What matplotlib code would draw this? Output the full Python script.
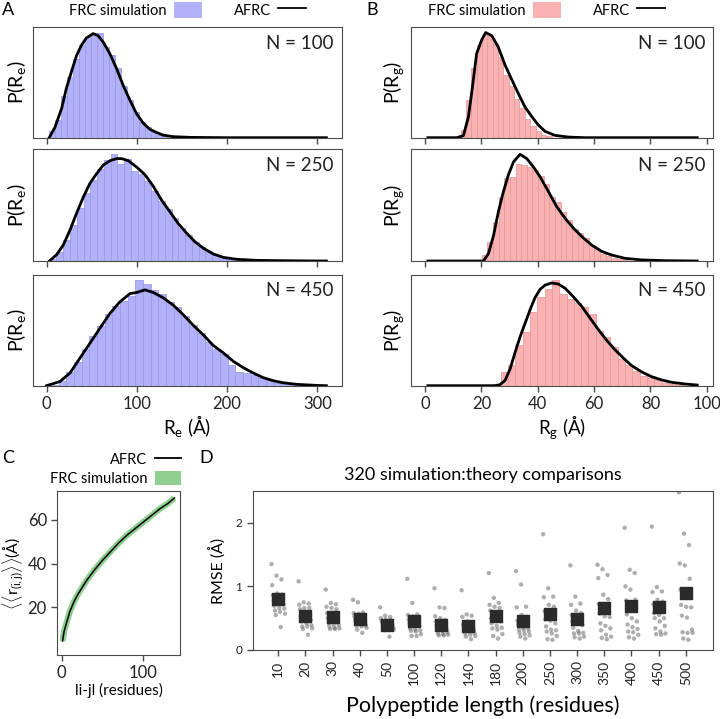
import numpy as np
import matplotlib.pyplot as plt
from matplotlib.patches import Patch
from matplotlib.lines import Line2D

plt.rcParams['font.family'] = ['Lato', 'DejaVu Sans']
plt.rcParams['mathtext.fontset'] = 'custom'
plt.rcParams['mathtext.rm'] = 'Lato'
plt.rcParams['axes.edgecolor'] = '#4a4a4a'
plt.rcParams['xtick.color'] = '#4a4a4a'
plt.rcParams['ytick.color'] = '#4a4a4a'
plt.rcParams['xtick.labelcolor'] = '#222222'
plt.rcParams['ytick.labelcolor'] = '#222222'

# ---------------- data ----------------
# panel A: end-to-end distance, histogram (bin start, bin width, heights) + AFRC curve
re100_start, re100_width = 3.0, 6.6
re100_hist = [0.06, 0.17, 0.40, 0.58, 0.75, 0.88, 0.96, 1.0, 1.0, 0.86, 0.79, 0.66,
              0.49, 0.36, 0.24, 0.15, 0.10, 0.06, 0.03, 0.015]
re100_x = [3, 9.4, 16.8, 22, 27.7, 33.2, 38.7, 44.3, 51.7, 57.2, 62.7, 70.1, 77.5, 84.8,
           92.2, 99.6, 107, 114.4, 121.8, 129, 140, 160, 200, 310]
re100_y = [0, 0.10, 0.28, 0.47, 0.63, 0.78, 0.88, 0.95, 0.99, 0.97, 0.91, 0.80, 0.66, 0.50,
           0.36, 0.23, 0.14, 0.08, 0.05, 0.025, 0.01, 0.003, 0, 0]

re250_start, re250_width = 3.5, 7.5
re250_hist = [0.02, 0.08, 0.20, 0.34, 0.50, 0.64, 0.76, 0.86, 0.95, 1.0, 0.91, 0.96, 0.84,
              0.82, 0.75, 0.66, 0.56, 0.49, 0.40, 0.31, 0.24, 0.18, 0.13, 0.09, 0.06, 0.035,
              0.02, 0.012]
re250_x = [3.3, 11.3, 18.6, 26, 33.4, 40.8, 48.2, 55.6, 62.9, 70.3, 77.7, 83.2, 90.6, 99.9,
           109, 118.3, 127.5, 136.8, 146, 155.3, 164.5, 173.7, 184.7, 195.8, 210.6, 232.8,
           262, 299, 310]
re250_y = [0, 0.06, 0.15, 0.29, 0.45, 0.60, 0.73, 0.82, 0.90, 0.94, 0.96, 0.96, 0.94, 0.88,
           0.81, 0.70, 0.57, 0.46, 0.35, 0.26, 0.18, 0.12, 0.066, 0.034, 0.016, 0.006,
           0.003, 0, 0]

re450_start, re450_width = 5.0, 8.5
re450_hist = [0.01, 0.04, 0.13, 0.22, 0.35, 0.47, 0.56, 0.68, 0.75, 0.80, 0.85, 1.0, 0.96,
              0.90, 0.87, 0.79, 0.74, 0.66, 0.57, 0.50, 0.41, 0.35, 0.30, 0.20, 0.13, 0.12,
              0.10, 0.07, 0.05, 0.03, 0.02, 0.01]
re450_x = [0, 15, 26, 37, 48, 59, 70, 81, 92.5, 99.9, 109, 118.3, 129.3, 140.4, 151.5, 162.6,
           173.6, 184.7, 195.8, 206.9, 218, 229, 240, 251, 262, 277, 299, 310]
re450_y = [0, 0.04, 0.12, 0.26, 0.40, 0.54, 0.68, 0.79, 0.87, 0.88, 0.905, 0.88, 0.83, 0.76,
           0.67, 0.57, 0.48, 0.38, 0.31, 0.23, 0.17, 0.12, 0.076, 0.047, 0.028, 0.013,
           0.003, 0]

# panel B: radius of gyration
rg100_start, rg100_width = 12.6, 1.9
rg100_hist = [0.07, 0.36, 0.66, 0.88, 0.98, 0.97, 0.89, 0.77, 0.60, 0.49, 0.37, 0.28, 0.18,
              0.11, 0.06, 0.03, 0.012]
rg100_x = [1, 11.2, 13.6, 15.4, 16.8, 18.3, 20.1, 21.5, 23.7, 26.0, 28.4, 30.8, 33.1, 35.5,
           37.9, 40.2, 42.6, 46.1, 50.9, 56.8, 96.6]
rg100_y = [0, 0, 0.02, 0.20, 0.48, 0.80, 0.93, 1.0, 0.97, 0.86, 0.69, 0.55, 0.42, 0.29,
           0.20, 0.12, 0.06, 0.022, 0.006, 0, 0]

rg250_start, rg250_width = 20.1, 2.0
rg250_hist = [0.06, 0.18, 0.37, 0.60, 0.78, 0.79, 0.91, 0.90, 0.88, 0.85, 0.80, 0.72, 0.60,
              0.55, 0.46, 0.38, 0.30, 0.26, 0.22, 0.15, 0.11, 0.07, 0.045, 0.03, 0.015, 0.008]
rg250_x = [1, 20.7, 22.5, 24.3, 26.0, 27.8, 29.6, 31.4, 33.7, 36.1, 38.5, 40.8, 43.8, 46.7,
           49.7, 52.6, 55.6, 59.1, 62.7, 66.2, 71.0, 76.9, 85.2, 96.6]
rg250_y = [0, 0, 0.07, 0.24, 0.46, 0.65, 0.81, 0.93, 1.0, 0.96, 0.88, 0.79, 0.65, 0.51,
           0.40, 0.31, 0.23, 0.15, 0.09, 0.056, 0.025, 0.01, 0.003, 0]

rg450_start, rg450_width = 24.2, 2.6
rg450_hist = [0.02, 0.13, 0.20, 0.38, 0.51, 0.70, 0.84, 0.91, 1.0, 0.87, 0.82, 0.78, 0.74,
              0.68, 0.52, 0.46, 0.37, 0.25, 0.20, 0.14, 0.09, 0.07, 0.05, 0.03, 0.015, 0.008]
rg450_x = [1, 24.8, 26.6, 28.4, 30.2, 31.9, 33.7, 35.5, 37.3, 39.0, 40.8, 42.6, 44.9, 47.3,
           49.7, 52.6, 55.6, 58.5, 61.5, 64.4, 67.4, 70.4, 73.3, 76.9, 80.4, 84.0, 87.5,
           92.3, 96.6]
rg450_y = [0, 0, 0.01, 0.05, 0.16, 0.31, 0.46, 0.59, 0.72, 0.83, 0.91, 0.95, 0.97, 0.96,
           0.92, 0.84, 0.75, 0.64, 0.53, 0.43, 0.34, 0.26, 0.19, 0.13, 0.085, 0.054, 0.032,
           0.016, 0.006]

# panel C: inter-residue distance scaling
sep = [1, 3, 6, 10, 15, 20, 30, 40, 50, 60, 70, 80, 90, 100, 110, 120, 130, 138]
rij = [4.5, 9, 13, 18, 22.5, 26, 32, 37, 41.5, 45.5, 49.5, 53, 56, 59, 62, 65, 67.5, 70]

# panel D: RMSE per polypeptide length
lengths = ['10', '20', '30', '40', '50', '100', '120', '140', '180', '200', '250', '300',
           '350', '400', '450', '500']
rmse_10 = [1.35, 1.17, 1.11, 1.02, 0.89, 0.87, 0.86, 0.84, 0.80, 0.78, 0.73, 0.72, 0.69, 0.66, 0.65, 0.62, 0.60, 0.57, 0.55, 0.36]
rmse_20 = [1.08, 0.75, 0.73, 0.71, 0.66, 0.66, 0.64, 0.58, 0.55, 0.52, 0.49, 0.47, 0.45, 0.42, 0.39, 0.37, 0.37, 0.34, 0.33, 0.24]
rmse_30 = [0.95, 0.74, 0.72, 0.68, 0.66, 0.64, 0.58, 0.55, 0.52, 0.50, 0.47, 0.44, 0.42, 0.40, 0.39, 0.37, 0.35, 0.34, 0.33, 0.33]
rmse_40 = [0.79, 0.75, 0.59, 0.58, 0.57, 0.55, 0.53, 0.51, 0.50, 0.48, 0.47, 0.45, 0.44, 0.40, 0.39, 0.38, 0.37, 0.35, 0.32, 0.27]
rmse_50 = [0.67, 0.54, 0.52, 0.50, 0.48, 0.47, 0.46, 0.45, 0.43, 0.42, 0.40, 0.39, 0.37, 0.36, 0.35, 0.34, 0.33, 0.32, 0.31, 0.21]
rmse_100 = [1.12, 0.74, 0.56, 0.55, 0.53, 0.50, 0.48, 0.45, 0.45, 0.42, 0.39, 0.38, 0.34, 0.32, 0.31, 0.30, 0.29, 0.25, 0.22, 0.22]
rmse_120 = [0.97, 0.67, 0.66, 0.53, 0.50, 0.47, 0.45, 0.42, 0.40, 0.39, 0.36, 0.33, 0.31, 0.30, 0.28, 0.26, 0.25, 0.24, 0.23, 0.23]
rmse_140 = [0.94, 0.56, 0.54, 0.52, 0.45, 0.42, 0.40, 0.38, 0.37, 0.35, 0.33, 0.32, 0.30, 0.29, 0.27, 0.26, 0.24, 0.22, 0.21, 0.17]
rmse_180 = [1.21, 0.82, 0.74, 0.71, 0.68, 0.66, 0.62, 0.57, 0.53, 0.50, 0.47, 0.45, 0.42, 0.38, 0.35, 0.34, 0.32, 0.25, 0.22, 0.18]
rmse_200 = [1.24, 1.03, 0.68, 0.67, 0.55, 0.52, 0.46, 0.44, 0.43, 0.40, 0.35, 0.34, 0.32, 0.31, 0.29, 0.27, 0.25, 0.23, 0.21, 0.18]
rmse_250 = [1.82, 0.97, 0.84, 0.83, 0.71, 0.68, 0.61, 0.56, 0.50, 0.48, 0.46, 0.42, 0.37, 0.32, 0.31, 0.29, 0.26, 0.22, 0.17, 0.16]
rmse_300 = [1.33, 0.84, 0.73, 0.71, 0.62, 0.58, 0.55, 0.52, 0.46, 0.45, 0.42, 0.39, 0.35, 0.30, 0.27, 0.26, 0.26, 0.21, 0.20, 0.18]
rmse_350 = [1.34, 1.27, 1.18, 1.13, 0.87, 0.80, 0.72, 0.66, 0.61, 0.57, 0.53, 0.52, 0.42, 0.38, 0.34, 0.31, 0.24, 0.21, 0.19, 0.17]
rmse_400 = [1.92, 1.26, 1.21, 1.00, 0.95, 0.79, 0.78, 0.71, 0.65, 0.56, 0.50, 0.45, 0.40, 0.36, 0.33, 0.29, 0.28, 0.24, 0.20, 0.18]
rmse_450 = [1.94, 0.99, 0.92, 0.91, 0.79, 0.76, 0.72, 0.68, 0.61, 0.58, 0.55, 0.50, 0.50, 0.45, 0.38, 0.34, 0.29, 0.26, 0.25, 0.24]
rmse_500 = [2.48, 1.83, 1.65, 1.36, 1.33, 1.12, 0.95, 0.88, 0.85, 0.71, 0.68, 0.67, 0.54, 0.51, 0.32, 0.28, 0.27, 0.27, 0.18, 0.16]
rmse_mean = [0.80, 0.54, 0.52, 0.48, 0.40, 0.45, 0.40, 0.37, 0.54, 0.45, 0.56, 0.48, 0.66, 0.69, 0.67, 0.89]

# ---------------- figure ----------------
W, H = 720, 719
fig = plt.figure(figsize=(W / 100, H / 100), dpi=100)


def add_ax(left, top, right, bottom):
    return fig.add_axes([left / W, 1 - bottom / H, (right - left) / W, (bottom - top) / H])


rows = [(27.3, 137.7), (149, 261), (274.5, 385.7)]
blue_face, blue_edge = '#b1b1fa', '#9c9ce6'
red_face, red_edge = '#f9b1b1', '#e59d9d'

panelA = [(re100_start, re100_width, re100_hist, re100_x, re100_y, 'N = 100'),
          (re250_start, re250_width, re250_hist, re250_x, re250_y, 'N = 250'),
          (re450_start, re450_width, re450_hist, re450_x, re450_y, 'N = 450')]
panelB = [(rg100_start, rg100_width, rg100_hist, rg100_x, rg100_y, 'N = 100'),
          (rg250_start, rg250_width, rg250_hist, rg250_x, rg250_y, 'N = 250'),
          (rg450_start, rg450_width, rg450_hist, rg450_x, rg450_y, 'N = 450')]


def hist_panel(ax, start, width, heights, cx, cy, label, face, edge, xlim, ticks, ylab):
    edges = start + width * np.arange(len(heights))
    ax.bar(edges, heights, width=width, align='edge', color=face, edgecolor=edge, linewidth=0.6)
    ax.plot(cx, cy, color='black', lw=2.0)
    ax.set_xlim(*xlim)
    ax.set_ylim(0, max(max(heights), max(cy)) * 1.05)
    ax.set_yticks([])
    ax.set_xticks(ticks)
    ax.tick_params(axis='x', length=4, width=1, labelsize=12)
    ax.set_ylabel(ylab, fontsize=14, labelpad=3)
    ax.text(0.973, 0.93, label, transform=ax.transAxes, ha='right', va='top', fontsize=13.5,
            color='#222222')


axA = []
for (t, b), p in zip(rows, panelA):
    ax = add_ax(32.7, t, 342.3, b)
    hist_panel(ax, *p, blue_face, blue_edge, (-15.3, 327.6), [0, 100, 200, 300],
               r'P(R$_\mathregular{e}$)')
    axA.append(ax)
axB = []
for (t, b), p in zip(rows, panelB):
    ax = add_ax(411, t, 713.3, b)
    hist_panel(ax, *p, red_face, red_edge, (-5.0, 102.3), [0, 20, 40, 60, 80, 100],
               r'P(R$_\mathregular{g}$)')
    axB.append(ax)
for ax in axA[:2] + axB[:2]:
    ax.tick_params(axis='x', labelbottom=False)
axA[2].set_xlabel(r'R$_\mathregular{e}$ (Å)', fontsize=13.5, labelpad=1)
axB[2].set_xlabel(r'R$_\mathregular{g}$ (Å)', fontsize=13.5, labelpad=1)

legA = [Patch(facecolor=blue_face, edgecolor='none'), Line2D([], [], color='black', lw=1.3)]
axA[0].legend(legA, ['FRC simulation', 'AFRC'], ncol=2, frameon=False, markerfirst=False,
              loc='center left', bbox_to_anchor=(69 / W, 1 - 10 / H),
              bbox_transform=fig.transFigure, fontsize=10.5, borderpad=0, borderaxespad=0,
              handlelength=1.9, handleheight=1.3, columnspacing=2.2, handletextpad=0.5)
legB = [Patch(facecolor=red_face, edgecolor='none'), Line2D([], [], color='black', lw=1.3)]
axB[0].legend(legB, ['FRC simulation', 'AFRC'], ncol=2, frameon=False, markerfirst=False,
              loc='center left', bbox_to_anchor=(428 / W, 1 - 10 / H),
              bbox_transform=fig.transFigure, fontsize=10.5, borderpad=0, borderaxespad=0,
              handlelength=1.9, handleheight=1.3, columnspacing=2.2, handletextpad=0.5)

# panel C
axC = add_ax(57.3, 491, 180.3, 655)
axC.plot(sep, rij, color='#8fcf8f', lw=4.5, solid_capstyle='butt')
axC.plot(sep, rij, color='black', lw=1.1)
axC.set_xlim(-5.4, 145.2)
axC.set_ylim(-1.9, 73.2)
axC.set_xticks([0, 100])
axC.set_yticks([20, 40, 60])
axC.tick_params(length=4, width=1, labelsize=12)
axC.set_xlabel('li-jl (residues)', fontsize=11, labelpad=1)
axC.set_ylabel(r'$\langle\langle$r$_\mathregular{(i,j)}$$\rangle\rangle$(Å)', fontsize=11.5,
               labelpad=1)
legC = [Line2D([], [], color='black', lw=1.3), Patch(facecolor='#8fcf8f', edgecolor='none')]
axC.legend(legC, ['AFRC', 'FRC simulation'], frameon=False, markerfirst=False,
           loc='lower right', bbox_to_anchor=(181 / W, 1 - 486 / H),
           bbox_transform=fig.transFigure, fontsize=10.5, borderpad=0, borderaxespad=0,
           handlelength=1.8, handleheight=1.1, handletextpad=0.5, labelspacing=0.25)

# panel D
axD = add_ax(252.7, 491, 713, 650)
groups = [rmse_10, rmse_20, rmse_30, rmse_40, rmse_50, rmse_100, rmse_120, rmse_140,
          rmse_180, rmse_200, rmse_250, rmse_300, rmse_350, rmse_400, rmse_450, rmse_500]
for i, vals in enumerate(groups):
    n = len(vals)
    jitter = (((np.arange(n) * 7) % n) / (n - 1) - 0.5) * 0.5
    axD.scatter(i + jitter, vals, s=10, color='#5e5e5e', alpha=0.5, edgecolor='none', zorder=2)
axD.scatter(np.arange(len(lengths)), rmse_mean, marker='s', s=75, color='#2b2b2b', zorder=3)
axD.set_xlim(-0.94, 16.0)
axD.set_ylim(0, 2.5)
axD.set_xticks(np.arange(len(lengths)))
axD.set_xticklabels(lengths, rotation=90)
axD.set_yticks([0, 1, 2])
axD.tick_params(axis='x', length=4, width=1, labelsize=10)
axD.tick_params(axis='y', length=4, width=1, labelsize=8.5)
axD.set_xlabel('Polypeptide length (residues)', fontsize=15.5, labelpad=8)
axD.set_ylabel('RMSE (Å)', fontsize=11.5, labelpad=6)
axD.set_title('320 simulation:theory comparisons', fontsize=13, pad=8)

# panel letters
for letter, x, y in [('A', 8, 10), ('B', 372, 10), ('C', 8, 458), ('D', 206, 458)]:
    fig.text(x / W, 1 - y / H, letter, fontsize=13, ha='center', va='center')

fig.savefig('out.png', dpi=100)
